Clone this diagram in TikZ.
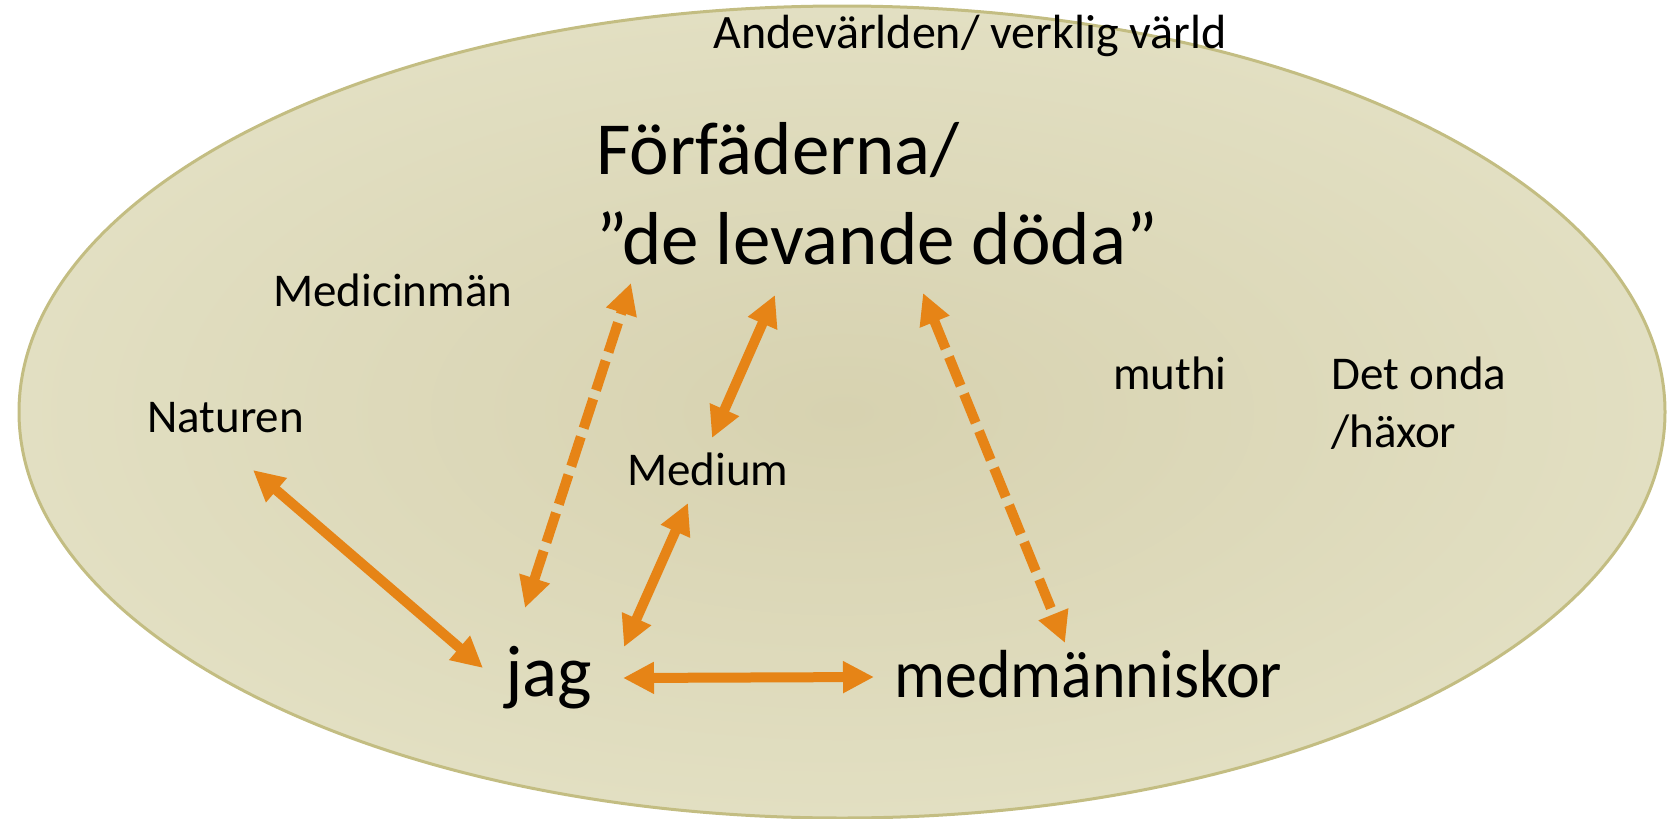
\documentclass[tikz,border=0pt]{standalone}
\usepackage{fontspec}
\setmainfont{Carlito}
\usetikzlibrary{arrows.meta}
\definecolor{ellfill}{RGB}{226,223,194}
\definecolor{ellcenter}{RGB}{215,210,176}
\definecolor{ellline}{RGB}{195,189,130}
\definecolor{arrorange}{RGB}{230,132,22}
\newcommand\hsq[2]{\scalebox{#1}[1]{#2}}
\tikzset{
  lbl/.style={inner sep=0pt, anchor=base west, font=\fontsize{47}{58}\selectfont},
  biglbl/.style={inner sep=0pt, anchor=base west, font=\fontsize{75}{90}\selectfont},
  arr/.style={draw=arrorange, line width=10pt,
    {Triangle[length=31pt,width=30pt]}-{Triangle[length=31pt,width=30pt]}},
  darr/.style={arr, dash pattern=on 31pt off 9pt},
}
\begin{document}
\begin{tikzpicture}[x=1pt,y=-1pt]
\useasboundingbox (0,0) rectangle (1673,819);
% world ellipse
\shade[inner color=ellcenter, outer color=ellfill] (842,412) ellipse [x radius=823, y radius=406];
\draw[ellline, line width=3pt] (842,412) ellipse [x radius=823, y radius=406];

% texts
\node[lbl, font=\fontsize{48}{58}\selectfont] (ande) at (713,48) {Andevärlden/ verklig värld};
\node[biglbl] (forf) at (596,174) {\begin{tabular}[t]{@{}l@{}}Förfäderna/\\”de levande döda”\end{tabular}};
\node[lbl] (medic) at (273,306) {Medicinmän};
\node[lbl] (natur) at (147,432) {Naturen};
\node[lbl] (medium) at (627,485) {Medium};
\node[lbl] (muthi) at (1113,389) {muthi};
\node[lbl] (onda) at (1331,389) {\begin{tabular}[t]{@{}l@{}}Det onda\\/häxor\end{tabular}};
\node[biglbl, font=\fontsize{73}{88}\selectfont] (jag) at (505,696) {jag};
\node[biglbl, font=\fontsize{68}{82}\selectfont] (medm) at (894,697) {\hsq{0.94}{medmänniskor}};

% arrow end points
\coordinate (natA) at (253,470);
\coordinate (jagNat) at (483,668);
\coordinate (forfA) at (631,283);
\coordinate (jagForf) at (525,608);
\coordinate (forfB) at (775,295);
\coordinate (medTop) at (712,438);
\coordinate (medBot) at (688,503);
\coordinate (jagMed) at (624,647);
\coordinate (jagR) at (623,678);
\coordinate (medmL) at (874,677);
\coordinate (forfC) at (923,293);
\coordinate (medmTop) at (1065,643);

% connectors
\draw[arr] (natA) -- (jagNat);
\draw[darr] (jagForf) -- (forfA);
\draw[arr] (forfB) -- (medTop);
\draw[arr] (medBot) -- (jagMed);
\draw[arr] (jagR) -- (medmL);
\draw[darr] (forfC) -- (medmTop);
\end{tikzpicture}
\end{document}
